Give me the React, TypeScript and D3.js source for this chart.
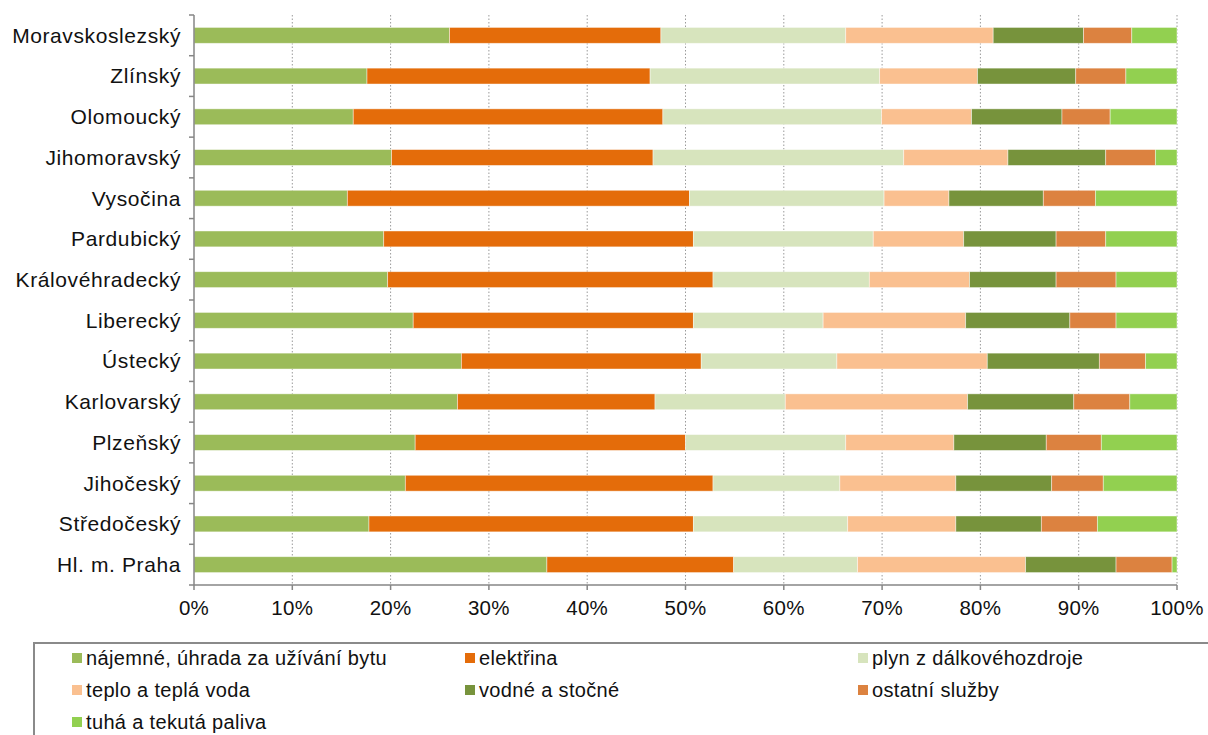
import React from "react";
import * as d3 from "d3";

const regions = [
  "Moravskoslezský", "Zlínský", "Olomoucký", "Jihomoravský", "Vysočina", "Pardubický",
  "Královéhradecký", "Liberecký", "Ústecký", "Karlovarský", "Plzeňský", "Jihočeský",
  "Středočeský", "Hl. m. Praha",
];

const seriesNames = [
  "nájemné, úhrada za užívání bytu", "elektřina", "plyn z dálkovéhozdroje",
  "teplo a teplá voda", "vodné a stočné", "ostatní služby", "tuhá a tekutá paliva",
];

const seriesColors = ["#9BBB59", "#E46C0A", "#D7E4BD", "#FAC090", "#77933C", "#DC8240", "#92D050"];

const najemne = [26.0, 17.6, 16.2, 20.1, 15.6, 19.3, 19.7, 22.3, 27.2, 26.8, 22.5, 21.5, 17.8, 35.9];
const elektrina = [21.5, 28.8, 31.5, 26.6, 34.8, 31.5, 33.1, 28.5, 24.4, 20.1, 27.5, 31.3, 33.0, 19.0];
const plyn = [18.8, 23.35, 22.25, 25.5, 19.8, 18.3, 15.9, 13.2, 13.8, 13.25, 16.3, 12.9, 15.7, 12.6];
const teplo = [15.0, 9.95, 9.15, 10.6, 6.6, 9.2, 10.2, 14.5, 15.3, 18.55, 11.0, 11.8, 11.0, 17.1];
const vodne = [9.2, 10.0, 9.2, 9.95, 9.6, 9.4, 8.8, 10.6, 11.4, 10.8, 9.4, 9.75, 8.7, 9.2];
const ostatni = [4.9, 5.1, 4.9, 5.05, 5.3, 5.05, 6.1, 4.7, 4.7, 5.7, 5.6, 5.25, 5.7, 5.7];
const tuha = [4.6, 5.2, 6.8, 2.2, 8.3, 7.25, 6.2, 6.2, 3.2, 4.8, 7.7, 7.5, 8.1, 0.5];

const tickValues = [0, 0.1, 0.2, 0.3, 0.4, 0.5, 0.6, 0.7, 0.8, 0.9, 1.0];

const seriesValues = [najemne, elektrina, plyn, teplo, vodne, ostatni, tuha];

export default function App() {
  const W = 1208, H = 735;
  const left = 194, right = 1177, top = 15, bottom = 585;
  const font = "'Liberation Sans', Arial, sans-serif";

  const rows = regions.map((r, i) => {
    const o: any = { region: r };
    seriesNames.forEach((s, k) => (o[s] = seriesValues[k][i]));
    return o;
  });
  const stack = d3.stack<any>().keys(seriesNames).offset(d3.stackOffsetExpand);
  const stacked = stack(rows);

  const x = d3.scaleLinear().domain([0, 1]).range([left, right]);
  const y = d3.scaleBand().domain(regions).range([top, bottom]).paddingInner(0.61).paddingOuter(0.305);
  const band = d3.scaleBand().domain(regions).range([top, bottom]);

  const legendCols = [72, 465, 858];
  const legendRows = [658, 690, 722];

  return (
    <svg width={W} height={H} style={{ position: "absolute", left: 0, top: 0, background: "#fff" }} fontFamily={font}>
      {/* gridlines */}
      {tickValues.slice(1).map((t) => (
        <line key={t} x1={x(t)} x2={x(t)} y1={top} y2={bottom} stroke="#9a9a9a" strokeWidth={1} strokeDasharray="1.5,2" />
      ))}
      {/* bars */}
      {stacked.map((layer, k) => (
        <g key={layer.key} fill={seriesColors[k]}>
          {layer.map((d, i) => (
            <rect key={i} x={x(d[0])} y={y(regions[i])!} width={x(d[1]) - x(d[0])} height={y.bandwidth()}
              stroke="rgba(255,255,255,0.55)" strokeWidth={0.8} />
          ))}
        </g>
      ))}
      {/* y axis */}
      <line x1={left} x2={left} y1={top} y2={bottom} stroke="#868686" strokeWidth={1.5} />
      {regions.map((r) => (
        <line key={"t" + r} x1={left - 5} x2={left} y1={band(r)!} y2={band(r)!} stroke="#868686" strokeWidth={1.5} />
      ))}
      <line x1={left - 5} x2={left} y1={bottom} y2={bottom} stroke="#868686" strokeWidth={1.5} />
      {regions.map((r) => (
        <text key={"l" + r} x={181} y={band(r)! + band.bandwidth() / 2} dy="0.35em" textAnchor="end" fontSize={21}
          letterSpacing={0.6} fill="#111">
          {r}
        </text>
      ))}
      {/* x axis */}
      <line x1={left} x2={right} y1={bottom} y2={bottom} stroke="#868686" strokeWidth={1.5} />
      {tickValues.map((t) => (
        <g key={"x" + t}>
          <line x1={x(t)} x2={x(t)} y1={bottom} y2={bottom + 5} stroke="#868686" strokeWidth={1.5} />
          <text x={x(t)} y={608} dy="0.35em" textAnchor="middle" fontSize={20.5} letterSpacing={0.3} fill="#111">
            {d3.format(".0%")(t)}
          </text>
        </g>
      ))}
      {/* legend */}
      <rect x={34} y={643} width={1200} height={120} fill="#fff" stroke="#8a8a8a" strokeWidth={2} />
      {seriesNames.map((s, k) => {
        const cx = legendCols[k % 3];
        const cy = legendRows[Math.floor(k / 3)];
        return (
          <g key={"lg" + s}>
            <rect x={cx} y={cy - 5} width={10} height={10} fill={seriesColors[k]} />
            <text x={cx + 14} y={cy} dy="0.35em" fontSize={20} letterSpacing={0.35} fill="#111">{s}</text>
          </g>
        );
      })}
    </svg>
  );
}
